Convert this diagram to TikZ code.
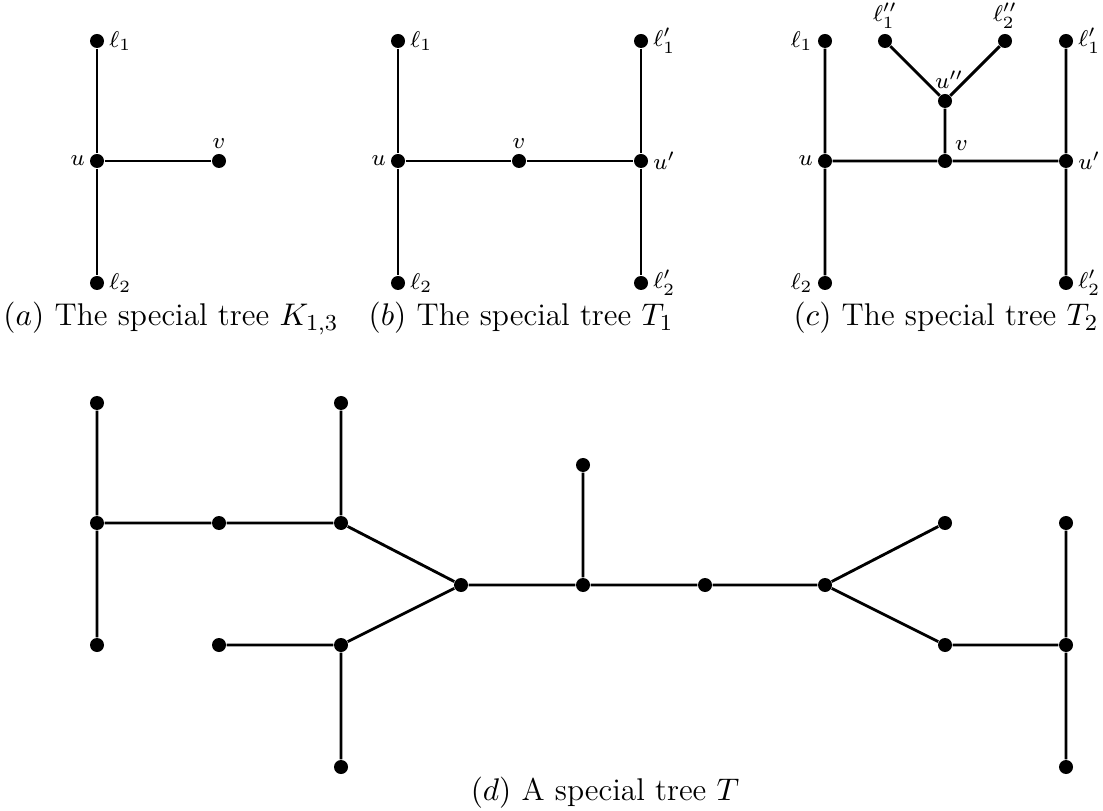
\documentclass[tikz,border=0pt]{standalone}
\begin{document}
\begin{tikzpicture}[x=0.35pt,y=-0.35pt,
  vtx/.style={circle,fill=black,inner sep=0pt,minimum size=14*0.35pt},
  edge/.style={line width=1pt},
  lab/.style={font=\fontsize{8}{9}\selectfont,inner sep=1.5pt},
  captext/.style={font=\fontsize{11}{13}\selectfont,anchor=base},
  every label/.style={lab}]
\useasboundingbox (0,0) rectangle (1103,811);
% (a)
\node[vtx,label={right:$\ell_1$}] (a1) at (97,41) {};
\node[vtx,label={left:$u$}] (au) at (97,161) {};
\node[vtx,label={above:$v$}] (av) at (219,161) {};
\node[vtx,label={right:$\ell_2$}] (a2) at (97,283) {};
\draw[edge] (a1) -- (au) -- (a2) (au) -- (av);
\node[captext] (capa) at (171,326) {$(a)$ The special tree $K_{1,3}$};
% (b)
\node[vtx,label={right:$\ell_1$}] (b1) at (398,41) {};
\node[vtx,label={left:$u$}] (bu) at (398,161) {};
\node[vtx,label={right:$\ell_2$}] (b2) at (398,283) {};
\node[vtx,label={above:$v$}] (bv) at (519,161) {};
\node[vtx,label={right:$\ell'_1$}] (bp1) at (641,41) {};
\node[vtx,label={right:$u'$}] (bup) at (641,161) {};
\node[vtx,label={right:$\ell'_2$}] (bp2) at (641,283) {};
\draw[edge] (b1) -- (bu) -- (b2) (bu) -- (bv) -- (bup) (bp1) -- (bup) -- (bp2);
\node[captext] (capb) at (521,326) {$(b)$ The special tree $T_1$};
% (c)
\node[vtx,label={left:$\ell_1$}] (c1) at (825,41) {};
\node[vtx,label={left:$u$}] (cu) at (825,161) {};
\node[vtx,label={left:$\ell_2$}] (c2) at (825,283) {};
\node[vtx,label={above right:$v$}] (cv) at (945,161) {};
\node[vtx,label={[xshift=1.5pt]above:$u''$}] (cupp) at (945,101) {};
\node[vtx,label={above:$\ell''_1$}] (cpp1) at (885,41) {};
\node[vtx,label={above:$\ell''_2$}] (cpp2) at (1005,41) {};
\node[vtx,label={right:$\ell'_1$}] (cp1) at (1066,41) {};
\node[vtx,label={right:$u'$}] (cup) at (1066,161) {};
\node[vtx,label={right:$\ell'_2$}] (cp2) at (1066,283) {};
\draw[edge] (c1) -- (cu) -- (c2) (cu) -- (cv) -- (cup) (cp1) -- (cup) -- (cp2)
  (cv) -- (cupp) (cpp1) -- (cupp) -- (cpp2);
\node[captext] (capc) at (946,326) {$(c)$ The special tree $T_2$};
% (d)
\node[vtx] (d1) at (97,403) {};
\node[vtx] (d2) at (97,523) {};
\node[vtx] (d3) at (97,645) {};
\node[vtx] (d4) at (219,523) {};
\node[vtx] (d5) at (341,523) {};
\node[vtx] (d6) at (341,403) {};
\node[vtx] (d7) at (219,645) {};
\node[vtx] (d8) at (341,645) {};
\node[vtx] (d9) at (341,767) {};
\node[vtx] (d10) at (461,585) {};
\node[vtx] (d11) at (583,585) {};
\node[vtx] (d12) at (583,465) {};
\node[vtx] (d13) at (705,585) {};
\node[vtx] (d14) at (825,585) {};
\node[vtx] (d15) at (945,523) {};
\node[vtx] (d16) at (945,645) {};
\node[vtx] (d17) at (1066,523) {};
\node[vtx] (d18) at (1066,645) {};
\node[vtx] (d19) at (1066,767) {};
\draw[edge] (d1) -- (d2) -- (d3) (d2) -- (d4) -- (d5) (d6) -- (d5) -- (d10)
  (d7) -- (d8) -- (d9) (d8) -- (d10) -- (d11) -- (d13) -- (d14)
  (d12) -- (d11) (d14) -- (d15) (d14) -- (d16) -- (d18)
  (d17) -- (d18) -- (d19);
\node[captext] (capd) at (605,800) {$(d)$ A special tree $T$};
\end{tikzpicture}
\end{document}
